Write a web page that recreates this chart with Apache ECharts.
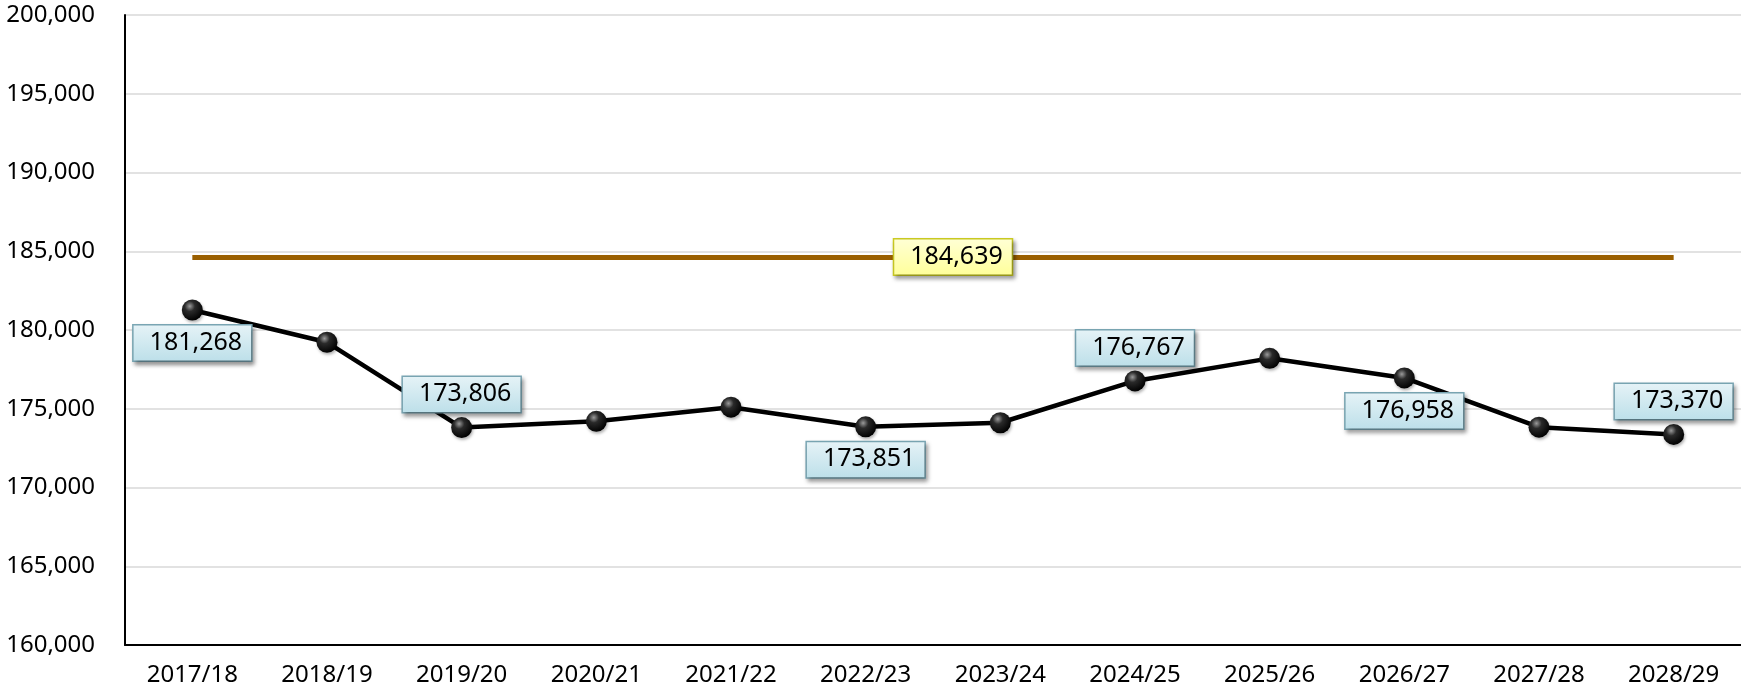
<!DOCTYPE html>
<html>
<head>
<meta charset="utf-8">
<style>
html,body{margin:0;padding:0;background:#fff;}
#chart{width:1741px;height:690px;}
</style>
<script src="https://cdn.jsdelivr.net/npm/echarts@6/dist/echarts.min.js"></script>
</head>
<body>
<div id="chart"></div>
<script>
const categories = ['2017/18','2018/19','2019/20','2020/21','2021/22','2022/23','2023/24','2024/25','2025/26','2026/27','2027/28','2028/29'];
const values = [181268, 179220, 173806, 174200, 175100, 173851, 174110, 176767, 178200, 176958, 173830, 173370];
const labelSide = ['bottom', null, 'top', null, null, 'bottom', null, 'top', null, 'bottom', null, 'top'];
const averageValue = 184639;
const yTicks = { min: 160000, max: 200000, interval: 5000 };

const FONT = 'Noto Sans';
const fmt = v => Number(v).toLocaleString('en-US');

const blueBox = {
  fontFamily: FONT, fontSize: 25, lineHeight: 24, color: '#000',
  padding: [5, 9, 6, 16],
  backgroundColor: new echarts.graphic.LinearGradient(0, 0, 0, 1, [
    { offset: 0, color: '#e6f3f7' }, { offset: 1, color: '#bcdfe9' }
  ]),
  borderColor: '#7aa6b4', borderWidth: 1.5,
  shadowColor: 'rgba(0,0,0,0.35)', shadowBlur: 4, shadowOffsetX: 2, shadowOffsetY: 3,
  distance: 5
};

const seriesData = values.map((v, i) => {
  const d = { value: v };
  if (labelSide[i]) {
    d.label = Object.assign({ show: true, position: labelSide[i], formatter: p => fmt(p.value) }, blueBox);
  }
  return d;
});

const chart = echarts.init(document.getElementById('chart'));
chart.setOption({
  animation: false,
  backgroundColor: '#fff',
  grid: { left: 125, right: 0, top: 15, bottom: 45, containLabel: false },
  xAxis: {
    type: 'category', data: categories, boundaryGap: true,
    axisLine: { show: true, lineStyle: { color: '#000', width: 2 } },
    axisTick: { show: false },
    axisLabel: { color: '#000', fontFamily: FONT, fontSize: 24, margin: 18 },
    splitLine: { show: false }
  },
  yAxis: {
    type: 'value', min: yTicks.min, max: yTicks.max, interval: yTicks.interval,
    axisLine: { show: true, lineStyle: { color: '#000', width: 2 } },
    axisTick: { show: false },
    axisLabel: { color: '#000', fontFamily: FONT, fontSize: 24, margin: 30, formatter: v => fmt(v) },
    splitLine: { show: true, lineStyle: { color: '#d9d9d9', width: 1.5 } }
  },
  series: [{
    type: 'line', data: seriesData, z: 3,
    symbol: 'circle', symbolSize: 21,
    lineStyle: { color: '#000', width: 4.5 },
    itemStyle: {
      color: {
        type: 'radial', x: 0.38, y: 0.32, r: 0.7,
        colorStops: [
          { offset: 0, color: '#9a9a9a' }, { offset: 0.35, color: '#2a2a2a' }, { offset: 1, color: '#000' }
        ]
      },
      shadowColor: 'rgba(0,0,0,0.3)', shadowBlur: 3, shadowOffsetX: 1, shadowOffsetY: 2
    },
    label: { show: false },
    markLine: {
      silent: true, symbol: 'none', z: 2,
      lineStyle: { color: '#9a5f00', width: 5, type: 'solid' },
      label: {
        show: true, position: 'middle', formatter: fmt(averageValue),
        fontFamily: FONT, fontSize: 25, lineHeight: 24, color: '#000',
        padding: [5, 9, 6, 16], distance: 0, verticalAlign: 'middle', align: 'center',
        offset: [20, 0],
        backgroundColor: new echarts.graphic.LinearGradient(0, 0, 0, 1, [
          { offset: 0, color: '#ffffd6' }, { offset: 1, color: '#ffff99' }
        ]),
        borderColor: '#cccc22', borderWidth: 1.5,
        shadowColor: 'rgba(0,0,0,0.35)', shadowBlur: 4, shadowOffsetX: 2, shadowOffsetY: 3
      },
      data: [[
        { coord: [categories[0], averageValue] },
        { coord: [categories[categories.length - 1], averageValue] }
      ]]
    }
  }]
});
</script>
</body>
</html>
